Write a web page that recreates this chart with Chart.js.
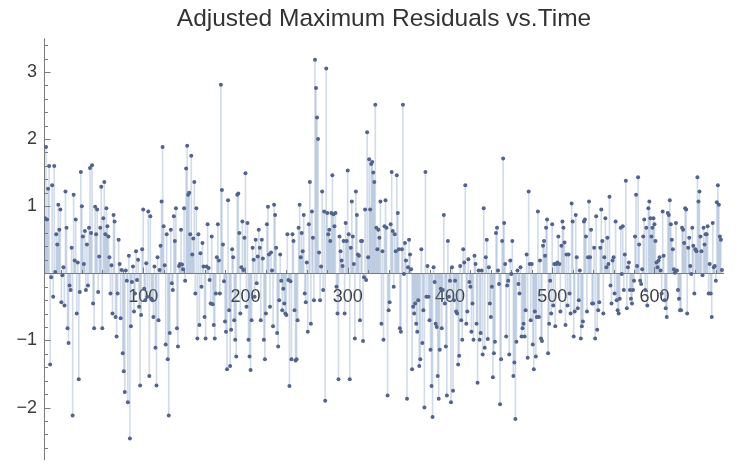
<!DOCTYPE html>
<html>
<head>
<meta charset="utf-8">
<script src="https://cdn.jsdelivr.net/npm/chart.js@4.4.1/dist/chart.umd.min.js"></script>
<style>
  html, body { margin: 0; padding: 0; background: #ffffff; }
  #wrap { width: 744px; height: 475px; }
</style>
</head>
<body>
<div id="wrap"><canvas id="chart" width="744" height="475"></canvas></div>
<script>
// Residual series, one value per time step, starting at timeStart.
const chartTitle = 'Adjusted Maximum Residuals vs.Time';
const timeStart = 4;
const residuals = [
  0.82, 1.88, 0.80, 1.26, 1.6, -1.36, -0.06, 1.31, -0.35, 1.6, 0.02, 0.58, 0.43, 1.02, 0.65, 0.95, -0.43, -0.03, 0.09, -0.48,
  1.22, 0.68, -0.82, -1.04, -0.18, -0.25, 0.38, -2.12, 1.17, 0.19, 0.8, -0.6, 0.16, -1.58, -0.28, 1.51, 1.0, 0.55, 0.14, 0.63,
  -0.25, 0.43, -0.18, 0.68, 1.57, 0.6,
  1.61, -0.45, -0.82, 0.99, 0.58, 0.95, -0.28, 0.25, 0.68, 1.29, -0.82, 0.82, 1.36, 0.58, 0.97, 0.7, 0.55, 0.24, -0.3, 0.12,
  -0.6, 0.87, 0.77, -0.65, -0.94, -0.3, 0.5, 0.14, -0.67, 0.05, -1.19, -1.46, -1.77, 0.04, -0.11, -1.92, 0.26, -2.46, -0.79, -0.13,
  0.1, -0.57, -0.3, 0.33, -0.1, 0.2, -0.5, -1.67, -0.62, 0.36, 0.95, -0.23, -0.4, 0.15, -0.35,
  0.92, -1.53, 0.85, -0.38, -0.4, -0.65, 0.1, -1.11, -1.67, 0.24, -0.7, 0.05, 0.41, 1.07, 1.88, 0.7, 0.12, -1.06, 0.58, -1.28,
  -2.12, -0.89, 0.65, -0.15, -0.25, 0.85, 0.48, 0.97, -0.82, -1.09, 0.11, 0.14, 0.65, 0.13, 0.06, 0.97, -0.11, 1.56, 1.9, 1.17,
  1.2, 0.58, 1.75, 0.28, 0.52, 1.36, -0.3, 0.97, -0.97, 0.58, -0.77, 0.3, -0.2, 0.45, 0.1,
  -0.65, -0.97, 0.1, 0.73, 0.08, -0.1, -0.45, 0.55, -0.46, -0.77, -0.97, -0.3, 0.24, 0.73, 0.19, -0.3, 2.81, 1.24, 0.43, -0.12,
  -0.72, -0.87, -1.43, 1.09, -0.55, -1.38, -0.84, 0.36, 0.24, -0.7, -0.99, -1.24, 1.17, 1.19, 0.6, -0.6, 0.09, 0.77, 0.05, 0.53,
  1.49, -0.5, 0.75, -0.99, -1.24, -1.44, -0.7, 0.38, 0.2, -0.35, 0.5, -0.15, 0.25, 0.65,
  0.38, -0.7, 0.5, 0.22, -0.99, -1.28, -0.6, 0.73, 0.99, 0.28, -0.5, 0.31, 0.04, -0.79, 1.02, 0.87, 0.38, -0.89, -1.09, -0.4,
  0.28, -0.11, -0.55, -0.23, -0.45, -0.6, -0.62, 0.58, -0.1, -1.68, -0.12, -1.28, 0.58, 0.48, -0.55, -1.3, -1.28, -0.7, 0.68, 1.02,
  0.24, 0.6, 0.33, 0.87, -0.3, -0.43, 0.16, -0.87, 0.73, 1.36, -0.75, 0.92, 0.53, -0.4, 3.18,
  2.76, 2.32, 2.0, 0.31, -0.4, 0.1, 1.22, -0.25, 0.92, -1.9, 3.05, 0.9, 0.58, 0.65, 0.48, 0.9, 1.46, 0.88, 0.7, 0.9,
  -0.2, -0.6, -1.58, 0.55, 0.33, 0.19, 0.11, 0.48, -0.6, 0.75, 0.48, 1.53, 0.58, -1.58, 0.38, 1.07, 0.55, 0.14, -0.97, 1.22,
  0.87, 0.28, 0.26, -0.7, 0.48, 0.48, -1.01, -0.06, 0.95, -0.1, 2.1, 0.24, 1.7, 0.95, 1.63,
  1.66, 1.5, 1.36, 2.51, 0.68, 0.36, 0.65, 0.53, 1.07, -0.75, 0.33, -0.99, 0.7, 1.09, 0.68, -1.82, -0.55, -0.43, 0.73, 1.51,
  0.63, -0.2, 0.58, 0.33, 1.46, 0.9, 0.36, -0.82, -0.87, 0.36, 2.51, -0.01, 0.45, 0.19, -1.87, 0.09, 0.5, 0.28, 0.06, -1.43,
  -0.5, -0.6, -0.45, -0.75, -0.87, -0.4, -1.38, -1.28, 0.36, -1.04, -0.55, -2.0, 1.51, -0.35,
  0.11, -0.35, -0.7, -1.14, -1.68, -2.14, 0.09, -0.13, -0.75, -0.8, -1.53, -1.87, -1.14, -0.23, -0.82, -0.25, 0.87, -0.45, -1.09, -1.82,
  0.48, -0.35, -0.11, -1.92, 0.09, -1.75, -0.4, -0.11, -0.57, -0.6, -1.36, -1.23, 0.11, -0.7, -0.99, 0.36, 0.16, 1.31, -0.75, -0.57,
  0.21, -0.13, -0.2, -0.87, -0.45, -0.99, 0.26, 0.14, -0.75, -1.63, 0.04, -0.99, -0.89, 0.04, -1.21,
  0.97, -1.11, 0.24, 0.5, -0.98, 0.09, -0.45, -0.65, -0.2, -1.55, -1.19, -1.02, 0.6, 0.68, 0.04, -0.16, -1.95, -1.28, 0.48, 1.71,
  0.75, 0.14, -0.94, -0.18, -0.11, -1.21, 0.19, -0.01, 0.48, -1.53, -1.33, -2.17, -1.02, 0.04, -0.16, -0.3, 0.09, -0.94, -0.82, -0.75,
  -0.94, -0.55, 0.28, -1.26, 1.22, 0.14, -0.7, 0.14, -1.06, -1.43, -0.57, -1.24, -0.65, 0.92,
  -0.65, 0.19, -0.97, -1.01, 0.41, 0.48, 0.26, 0.68, 0.8, -1.19, -0.75, -0.11, -0.6, 0.73, -0.48, 0.14, -0.79, 0.14, 0.16, 0.55,
  0.14, -0.57, 0.41, 0.77, 0.68, 0.46, -0.77, 0.28, -0.48, 0.28, -0.3, -0.6, 1.04, 0.77, -0.94, -0.57, 0.87, 0.24, -0.52, -0.4,
  0.04, -0.97, -0.79, -0.72, 0.77, 0.8, 0.55, -0.57, 0.24, 1.07, 0.24, 0.65, -0.45, -0.45, 0.38,
  -0.97, 0.85, -0.84, -0.55, -0.43, 0.38, 0.95, 0.48, -0.6, 0.24, 0.82, 0.09, 0.53, 0.14, 1.14, -0.18, -0.45, 0.19, 0.24, -0.3,
  0.77, -0.4, -0.55, -0.6, -0.38, 0.68, -0.01, 0.7, -0.25, 0.28, 1.38, -0.52, 0.09, 0.16, -0.25, -0.38, -0.45, -0.25, -0.11, 0.55,
  1.17, 0.11, 1.43, 0.43, -0.11, -0.16, 0.06, 0.55, 0.8, -0.25, 0.68, -0.48, 0.97, 1.07, 0.82,
  0.55, 0.68, 0.82, 0.73, 0.48, 0.16, 0.09, 0.19, 0.24, 0.04, -0.3, 0.92, 0.26, -0.4, -0.52, -0.65, 0.9, 0.87, 1.09, 0.73,
  0.5, 0.36, 0.06, 0.01, 0.75, 0.04, -0.25, -0.38, -0.55, -0.55, 0.68, 0.65, 0.45, 0.97, 0.95, -0.6, 0.38, 0.53, 0.11, -0.01,
  0.68, 0.41, -0.3, 0.36, 0.33, 1.43, 1.07, 1.22, 0.55, 0.33, -0.03, 0.68, 0.43, 0.58, 0.58, 0.7, -0.3, 0.14, -0.3, -0.65,
  0.75, 0.09, 0.11, -0.11, 1.06, 1.31, 1.02, 0.55, 0.5, 0.05
];
const xTicks = [100, 200, 300, 400, 500, 600];
const yTicks = [-2, -1, 1, 2, 3];

const points = residuals.map((v, i) => ({ x: timeStart + i, y: v }));

const AXIS_COLOR = '#7a7a7a';
const LABEL_COLOR = '#3c3c3c';
const FONT = 'Liberation Sans, Arial, sans-serif';

// Axes crossing at the origin, with ticks pointing into the plot.
const crossAxes = {
  id: 'crossAxes',
  beforeDatasetsDraw(chart) {
    const { ctx, chartArea: a, scales: { x, y } } = chart;
    const x0 = Math.round(a.left) + 0.5;
    const y0 = Math.round(y.getPixelForValue(0)) + 0.5;
    ctx.save();
    ctx.strokeStyle = AXIS_COLOR;
    ctx.lineWidth = 1;
    ctx.beginPath();
    ctx.moveTo(x0, a.top - 2);
    ctx.lineTo(x0, a.bottom + 3);
    ctx.moveTo(a.left, y0);
    ctx.lineTo(a.right, y0);
    // vertical axis ticks every 0.2
    for (let k = -13; k <= 17; k++) {
      const v = k / 5;
      if (v < y.min || v > y.max) continue;
      const py = Math.round(y.getPixelForValue(v)) + 0.5;
      const len = (k % 5 === 0) ? 6 : 3.5;
      ctx.moveTo(x0, py);
      ctx.lineTo(x0 + len, py);
    }
    // horizontal axis ticks every 20
    for (let t = 20; t <= x.max; t += 20) {
      const px = Math.round(x.getPixelForValue(t)) + 0.5;
      const len = (t % 100 === 0) ? 6 : 3.5;
      ctx.moveTo(px, y0);
      ctx.lineTo(px, y0 - len);
    }
    ctx.stroke();
    ctx.restore();
  }
};

new Chart(document.getElementById('chart'), {
  type: 'scatter',
  data: {
    datasets: [
      {
        type: 'bar',
        data: points,
        backgroundColor: 'rgba(94,129,181,0.28)',
        borderWidth: 0,
        barThickness: 1,
        order: 2
      },
      {
        type: 'scatter',
        data: points,
        pointRadius: 2,
        pointBackgroundColor: '#53638c',
        pointBorderWidth: 0,
        order: 1
      }
    ]
  },
  options: {
    responsive: false,
    animation: false,
    devicePixelRatio: 1,
    layout: { padding: { left: 0, right: 20, top: 0, bottom: 13 } },
    plugins: {
      legend: { display: false },
      tooltip: { enabled: false },
      title: {
        display: true,
        fullSize: false,
        text: chartTitle,
        color: '#333333',
        font: { family: FONT, size: 24.5, weight: 'normal' },
        padding: { top: 5, bottom: 6 }
      }
    },
    scales: {
      x: {
        type: 'linear',
        min: 3,
        max: 668,
        offset: false,
        position: { y: 0 },
        grid: { display: false, drawTicks: false, offset: false },
        border: { display: false },
        afterBuildTicks: s => { s.ticks = xTicks.map(v => ({ value: v })); },
        ticks: {
          padding: 13,
          color: LABEL_COLOR,
          autoSkip: false,
          maxRotation: 0,
          font: { family: FONT, size: 18 }
        }
      },
      y: {
        type: 'linear',
        min: -2.74,
        max: 3.47,
        afterFit: s => { s.width = 44; },
        grid: { display: false, drawTicks: false },
        border: { display: false },
        afterBuildTicks: s => { s.ticks = yTicks.map(v => ({ value: v })); },
        ticks: {
          padding: 7,
          color: LABEL_COLOR,
          font: { family: FONT, size: 18 },
          callback: v => (v < 0 ? '\u2212' + Math.abs(v) : String(v))
        }
      }
    }
  },
  plugins: [crossAxes]
});
</script>
</body>
</html>
